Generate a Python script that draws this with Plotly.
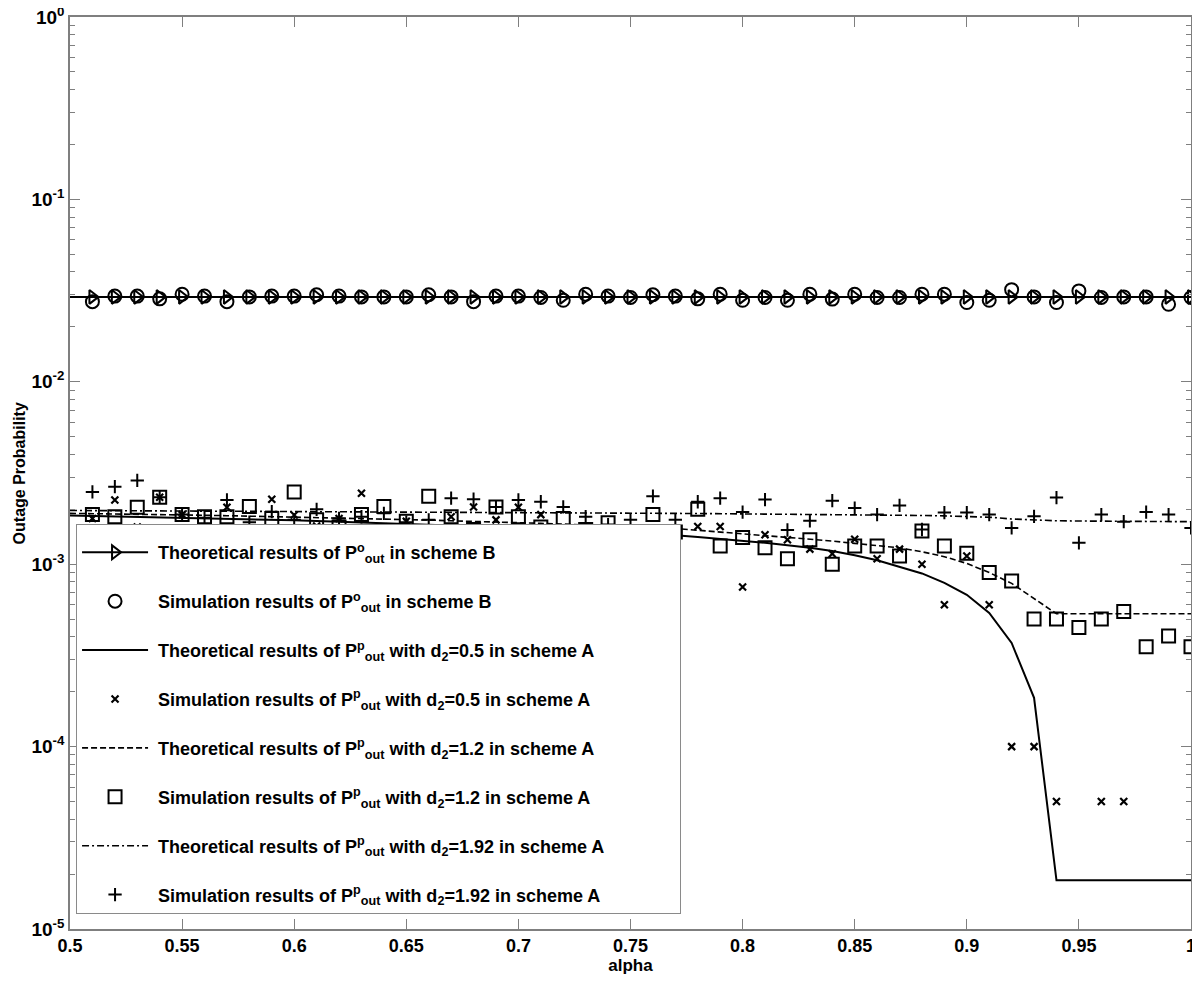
import plotly.graph_objects as go

# ---------------- data ----------------
alpha_th = [round(0.50 + 0.01 * i, 2) for i in range(51)]   # 0.50 .. 1.00
alpha_sim = [round(0.51 + 0.01 * i, 2) for i in range(50)]  # 0.51 .. 1.00

# Theoretical P_out^o, scheme B
th_B = [0.0292] * 51

# Simulation P_out^o, scheme B
sim_B = [0.0275, 0.0295, 0.0295, 0.0285, 0.0302, 0.0295, 0.0275, 0.0292, 0.0295, 0.0295,
         0.0300, 0.0295, 0.0292, 0.0292, 0.0292, 0.0300, 0.0292, 0.0275, 0.0295, 0.0295,
         0.0290, 0.0280, 0.0302, 0.0295, 0.0290, 0.0300, 0.0295, 0.0285, 0.0302, 0.0280,
         0.0290, 0.0280, 0.0302, 0.0284, 0.0302, 0.0290, 0.0290, 0.0302, 0.0302, 0.0272,
         0.0280, 0.0320, 0.0292, 0.0272, 0.0315, 0.0290, 0.0292, 0.0292, 0.0266, 0.0290]

# Theoretical P_out^p, d2 = 0.5, scheme A
th_A05 = [1.85e-3, 1.84e-3, 1.83e-3, 1.82e-3, 1.81e-3, 1.80e-3, 1.79e-3, 1.78e-3, 1.77e-3, 1.755e-3,
          1.74e-3, 1.725e-3, 1.71e-3, 1.695e-3, 1.68e-3, 1.665e-3, 1.65e-3, 1.635e-3, 1.62e-3, 1.60e-3,
          1.585e-3, 1.565e-3, 1.545e-3, 1.525e-3, 1.505e-3, 1.485e-3, 1.46e-3, 1.44e-3, 1.41e-3, 1.38e-3,
          1.35e-3, 1.31e-3, 1.27e-3, 1.23e-3, 1.18e-3, 1.12e-3, 1.05e-3, 9.7e-4, 8.9e-4, 7.9e-4,
          6.8e-4, 5.4e-4, 3.7e-4, 1.85e-4, 1.85e-5, 1.85e-5, 1.85e-5, 1.85e-5, 1.85e-5, 1.85e-5,
          1.85e-5]

# Simulation P_out^p, d2 = 0.5, scheme A (None = no outage observed)
sim_A05 = [1.78e-3, 2.25e-3, 1.60e-3, 2.33e-3, 1.87e-3, 1.60e-3, 2.05e-3, 1.55e-3, 2.27e-3, 1.86e-3,
           1.62e-3, 1.78e-3, 2.45e-3, 1.60e-3, 1.72e-3, 1.55e-3, 1.82e-3, 2.06e-3, 1.75e-3, 2.05e-3,
           1.87e-3, 1.50e-3, 1.60e-3, 1.45e-3, 1.55e-3, 1.50e-3, 1.45e-3, 1.61e-3, 1.61e-3, 7.5e-4,
           1.45e-3, 1.36e-3, 1.21e-3, 1.14e-3, 1.37e-3, 1.07e-3, 1.21e-3, 1.0e-3, 6.0e-4, 1.11e-3,
           6.0e-4, 1.0e-4, 1.0e-4, 5.0e-5, None, 5.0e-5, 5.0e-5, None, None, None]

# Theoretical P_out^p, d2 = 1.2, scheme A
th_A12 = [1.90e-3, 1.895e-3, 1.89e-3, 1.885e-3, 1.875e-3, 1.865e-3, 1.855e-3, 1.845e-3, 1.835e-3, 1.825e-3,
          1.815e-3, 1.805e-3, 1.79e-3, 1.78e-3, 1.77e-3, 1.76e-3, 1.745e-3, 1.73e-3, 1.72e-3, 1.705e-3,
          1.69e-3, 1.675e-3, 1.66e-3, 1.645e-3, 1.63e-3, 1.61e-3, 1.59e-3, 1.57e-3, 1.535e-3, 1.50e-3,
          1.465e-3, 1.435e-3, 1.405e-3, 1.375e-3, 1.34e-3, 1.30e-3, 1.265e-3, 1.23e-3, 1.17e-3, 1.10e-3,
          1.01e-3, 9.0e-4, 7.85e-4, 6.45e-4, 5.35e-4, 5.35e-4, 5.35e-4, 5.35e-4, 5.35e-4, 5.35e-4,
          5.35e-4]

# Simulation P_out^p, d2 = 1.2, scheme A
sim_A12 = [1.87e-3, 1.82e-3, 2.05e-3, 2.33e-3, 1.87e-3, 1.82e-3, 1.82e-3, 2.07e-3, 1.78e-3, 2.49e-3,
           1.75e-3, 1.60e-3, 1.87e-3, 2.07e-3, 1.72e-3, 2.36e-3, 1.82e-3, 1.55e-3, 2.06e-3, 1.82e-3,
           1.60e-3, 1.78e-3, 1.55e-3, 1.69e-3, 1.50e-3, 1.87e-3, 1.50e-3, 2.0e-3, 1.26e-3, 1.40e-3,
           1.23e-3, 1.07e-3, 1.36e-3, 1.0e-3, 1.26e-3, 1.26e-3, 1.11e-3, 1.52e-3, 1.26e-3, 1.15e-3,
           9.0e-4, 8.1e-4, 5.0e-4, 5.0e-4, 4.5e-4, 5.0e-4, 5.5e-4, 3.53e-4, 4.04e-4, 3.53e-4]

# Theoretical P_out^p, d2 = 1.92, scheme A
th_A192 = [1.970e-3, 1.968e-3, 1.966e-3, 1.964e-3, 1.962e-3, 1.960e-3, 1.958e-3, 1.956e-3, 1.954e-3, 1.952e-3,
           1.950e-3, 1.947e-3, 1.944e-3, 1.941e-3, 1.938e-3, 1.935e-3, 1.932e-3, 1.929e-3, 1.926e-3, 1.923e-3,
           1.920e-3, 1.917e-3, 1.914e-3, 1.911e-3, 1.908e-3, 1.905e-3, 1.902e-3, 1.899e-3, 1.896e-3, 1.893e-3,
           1.890e-3, 1.887e-3, 1.884e-3, 1.881e-3, 1.878e-3, 1.875e-3, 1.870e-3, 1.860e-3, 1.850e-3, 1.840e-3,
           1.830e-3, 1.810e-3, 1.770e-3, 1.745e-3, 1.730e-3, 1.725e-3, 1.720e-3, 1.715e-3, 1.713e-3, 1.711e-3,
           1.710e-3]

# Simulation P_out^p, d2 = 1.92, scheme A
sim_A192 = [2.49e-3, 2.66e-3, 2.88e-3, 2.33e-3, 1.87e-3, 1.80e-3, 2.25e-3, 1.70e-3, 1.94e-3, 1.75e-3,
            2.0e-3, 1.78e-3, 1.82e-3, 1.90e-3, 1.70e-3, 1.75e-3, 2.30e-3, 2.27e-3, 2.06e-3, 2.25e-3,
            2.20e-3, 2.06e-3, 1.82e-3, 1.65e-3, 1.75e-3, 2.36e-3, 1.75e-3, 2.20e-3, 2.30e-3, 1.93e-3,
            2.26e-3, 1.54e-3, 1.73e-3, 2.23e-3, 2.03e-3, 1.87e-3, 2.10e-3, 1.55e-3, 1.92e-3, 1.92e-3,
            1.87e-3, 1.58e-3, 1.83e-3, 2.32e-3, 1.31e-3, 1.87e-3, 1.71e-3, 1.93e-3, 1.87e-3, 1.58e-3]

x_ticks = [0.5, 0.55, 0.6, 0.65, 0.7, 0.75, 0.8, 0.85, 0.9, 0.95, 1]
x_ticklabels = ["0.5", "0.55", "0.6", "0.65", "0.7", "0.75", "0.8", "0.85", "0.9", "0.95", "1"]
y_ticks = [1e-5, 1e-4, 1e-3, 1e-2, 1e-1, 1]
y_ticklabels = ["10<sup>-5</sup>", "10<sup>-4</sup>", "10<sup>-3</sup>",
                "10<sup>-2</sup>", "10<sup>-1</sup>", "10<sup>0</sup>"]

names = [
    "&nbsp;Theoretical results of P<sup>o</sup><sub>out</sub> in scheme B",
    "&nbsp;Simulation results of P<sup>o</sup><sub>out</sub> in scheme B",
    "&nbsp;Theoretical results of P<sup>p</sup><sub>out</sub> with d<sub>2</sub>=0.5 in scheme A",
    "&nbsp;Simulation results of P<sup>p</sup><sub>out</sub> with d<sub>2</sub>=0.5 in scheme A",
    "&nbsp;Theoretical results of P<sup>p</sup><sub>out</sub> with d<sub>2</sub>=1.2 in scheme A",
    "&nbsp;Simulation results of P<sup>p</sup><sub>out</sub> with d<sub>2</sub>=1.2 in scheme A",
    "&nbsp;Theoretical results of P<sup>p</sup><sub>out</sub> with d<sub>2</sub>=1.92 in scheme A"
    + "&nbsp;" * 14,
    "&nbsp;Simulation results of P<sup>p</sup><sub>out</sub> with d<sub>2</sub>=1.92 in scheme A",
]

# ---------------- figure ----------------
BLACK = "black"
AXC = "#7f7f7f"
FONT = "Liberation Sans"
minor_y = [m * 10.0 ** e for e in range(-5, 0) for m in range(2, 10)]

fig = go.Figure()

# scheme B theory line across full range (no markers)
fig.add_trace(go.Scatter(x=alpha_th, y=th_B, mode="lines", line=dict(color=BLACK, width=2),
                         showlegend=False, hoverinfo="skip"))
fig.add_trace(go.Scatter(x=alpha_sim, y=th_B[1:], mode="lines+markers", name=names[0],
                         legendgroup="g0",
                         line=dict(color=BLACK, width=2),
                         marker=dict(symbol="triangle-right-open", size=12, color=BLACK,
                                     line=dict(width=2, color=BLACK))))
fig.add_trace(go.Scatter(x=alpha_sim, y=sim_B, mode="markers", name=names[1], legendgroup="g1",
                         marker=dict(symbol="circle-open", size=13, color=BLACK,
                                     line=dict(width=2, color=BLACK))))
fig.add_trace(go.Scatter(x=alpha_th, y=th_A05, mode="lines", name=names[2], legendgroup="g2",
                         line=dict(color=BLACK, width=2)))
fig.add_trace(go.Scatter(x=alpha_sim, y=sim_A05, mode="markers", name=names[3], legendgroup="g3",
                         marker=dict(symbol="x-thin-open", size=7, color=BLACK,
                                     line=dict(width=2.2, color=BLACK))))
fig.add_trace(go.Scatter(x=alpha_th, y=th_A12, mode="lines", name=names[4], legendgroup="g4",
                         line=dict(color=BLACK, width=1.6, dash="6px,3px")))
fig.add_trace(go.Scatter(x=alpha_sim, y=sim_A12, mode="markers", name=names[5], legendgroup="g5",
                         marker=dict(symbol="square-open", size=13, color=BLACK,
                                     line=dict(width=2, color=BLACK))))
fig.add_trace(go.Scatter(x=alpha_th, y=th_A192, mode="lines", name=names[6], legendgroup="g6",
                         line=dict(color=BLACK, width=1.6, dash="7px,3px,2px,3px")))
fig.add_trace(go.Scatter(x=alpha_sim, y=sim_A192, mode="markers", name=names[7], legendgroup="g7",
                         marker=dict(symbol="cross-thin-open", size=9.5, color=BLACK,
                                     line=dict(width=2, color=BLACK))))

# The page places the figure 8 px from the top-left corner, so the size and
# margins are reduced by that offset to keep the plot frame where it belongs.
fig.update_layout(
    width=1192, height=974,
    margin=dict(l=62, r=9, t=9, b=53, autoexpand=False),
    paper_bgcolor="white", plot_bgcolor="white",
    font=dict(family=FONT, size=18, color=BLACK, weight="bold"),
    showlegend=True,
    legend=dict(
        x=0.0054, y=0.4441, xanchor="left", yanchor="top",
        bgcolor="white", bordercolor="#8a8a8a", borderwidth=1,
        font=dict(family=FONT, size=18, color=BLACK, weight="bold"),
        title=dict(text="&nbsp;", font=dict(size=7)),
        itemwidth=66, traceorder="grouped", tracegroupgap=22.5,
    ),
    xaxis=dict(
        range=[0.5, 1.0], tickvals=x_ticks, ticktext=x_ticklabels, automargin=False,
        ticks="inside", ticklen=10, tickwidth=1, tickcolor=AXC, ticklabeloverflow="allow",
        showline=True, linecolor=AXC, linewidth=1.5, mirror="ticks",
        showgrid=False, zeroline=False,
        title=dict(text="alpha", font=dict(family=FONT, size=17, weight="bold"), standoff=0),
        tickfont=dict(family=FONT, size=18, weight="bold"),
    ),
    yaxis=dict(
        type="log", range=[-5, 0], tickvals=y_ticks, ticktext=y_ticklabels, automargin=False,
        ticks="inside", ticklen=10, tickwidth=1, tickcolor=AXC, ticklabeloverflow="allow",
        minor=dict(tickvals=minor_y, ticks="inside", ticklen=5, tickcolor=AXC, tickwidth=1,
                   showgrid=False),
        showline=True, linecolor=AXC, linewidth=1.5, mirror="ticks",
        showgrid=False, zeroline=False,
        tickfont=dict(family=FONT, size=19, weight="bold"),
    ),
    annotations=[dict(
        text="Outage Probability", textangle=-90, showarrow=False,
        xref="paper", yref="paper", x=-0.0545, y=0.5, xanchor="left", yanchor="middle",
        font=dict(family=FONT, size=16, color=BLACK, weight="bold"),
    )],
)

fig.write_html("out.html")
